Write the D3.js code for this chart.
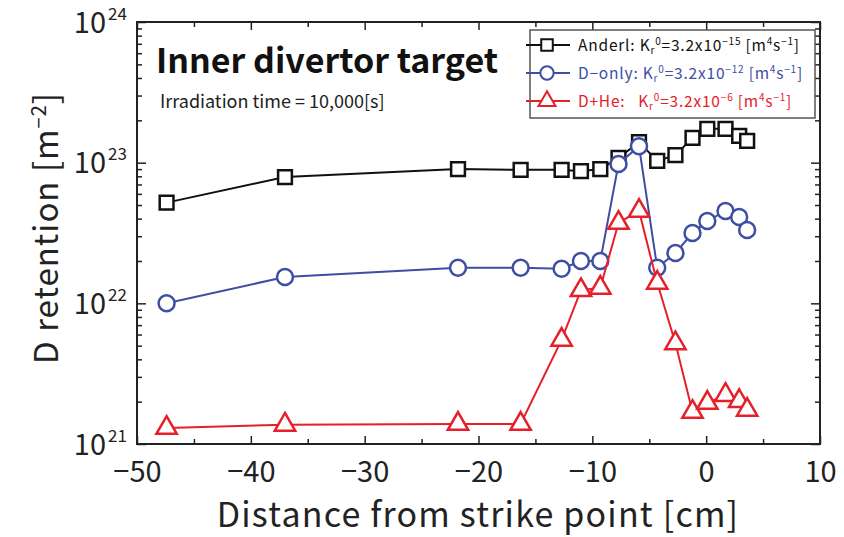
<!DOCTYPE html>
<html lang="en">
<head>
    <meta charset="UTF-8">
    <title>D retention - inner divertor target</title>
    <script src="https://d3js.org/d3.v7.min.js"></script>
    <style>
        body { margin: 0; background: #ffffff; }
        text { font-family: "Noto Sans CJK JP", "Noto Sans", sans-serif; }
        .tick line { stroke: #222222; stroke-width: 1.5; }
        .axis-text { font-size: 29px; fill: #222222; }
        .series-line { fill: none; stroke-width: 2; }
    </style>
</head>
<body>
    <div id="chart"></div>
    <script>
        // distance from strike point [cm]
        const distance = [-47.4, -37, -21.8, -16.3, -12.7, -11, -9.3, -7.7, -5.9, -4.3, -2.7, -1.2, 0.1, 1.7, 2.9, 3.6];
        // D retention [m^-2]
        const anderl = [5.2e22, 7.9e22, 9.0e22, 8.9e22, 8.9e22, 8.7e22, 9.0e22, 1.08e23, 1.40e23, 1.03e23, 1.13e23, 1.50e23, 1.74e23, 1.74e23, 1.55e23, 1.43e23];
        const dOnly = [1.0e22, 1.54e22, 1.79e22, 1.79e22, 1.76e22, 2.0e22, 2.0e22, 9.8e22, 1.31e23, 1.79e22, 2.28e22, 3.16e22, 3.85e22, 4.54e22, 4.11e22, 3.32e22];
        const dHe = [1.30e21, 1.37e21, 1.39e21, 1.39e21, 5.5e21, 1.24e22, 1.29e22, 3.73e22, 4.54e22, 1.40e22, 5.2e21, 1.69e21, 1.96e21, 2.23e21, 2.02e21, 1.75e21];

        const xTicks = [-50, -40, -30, -20, -10, 0, 10];
        const xMinorTicks = [-45, -35, -25, -15, -5, 5];
        const yDecades = [21, 22, 23, 24];

        const legendNames = ["Anderl: ", "D\u2212only: ", "D+He:   "];
        const legendExps = ["\u221215", "\u221212", "\u22126"];

        const W = 844, H = 537;
        const margin = { top: 22, right: 24, bottom: 93, left: 137 };
        const width = W - margin.left - margin.right;
        const height = H - margin.top - margin.bottom;

        const svg = d3.select("#chart").append("svg")
            .attr("width", W).attr("height", H);
        const g = svg.append("g")
            .attr("transform", `translate(${margin.left},${margin.top})`);

        const x = d3.scaleLinear().domain([-50, 10]).range([0, width]);
        const y = d3.scaleLog().domain([1e21, 1e24]).range([height, 0]);

        const yMajor = yDecades.map(e => Math.pow(10, e));
        const yMinor = y.ticks().filter(v => !yMajor.some(m => Math.abs(m - v) / m < 1e-6));

        // bottom axis with labels
        const xAxisG = g.append("g")
            .attr("transform", `translate(0,${height})`)
            .call(d3.axisBottom(x).tickValues(xTicks).tickSizeInner(-8).tickSizeOuter(0).tickPadding(17));
        xAxisG.select(".domain").remove();
        xAxisG.selectAll("text").attr("class", "axis-text");
        g.append("g").attr("transform", `translate(0,${height})`)
            .call(d3.axisBottom(x).tickValues(xMinorTicks).tickSizeInner(-5).tickSizeOuter(0).tickFormat(""))
            .select(".domain").remove();

        // top axis ticks
        g.append("g").call(d3.axisTop(x).tickValues(xTicks).tickSizeInner(-8).tickSizeOuter(0).tickFormat(""))
            .select(".domain").remove();
        g.append("g").call(d3.axisTop(x).tickValues(xMinorTicks).tickSizeInner(-5).tickSizeOuter(0).tickFormat(""))
            .select(".domain").remove();

        // left axis: "10" from the axis, exponent as its own small text
        const yAxisG = g.append("g")
            .call(d3.axisLeft(y).tickValues(yMajor).tickSizeInner(-9).tickSizeOuter(0).tickPadding(31).tickFormat(() => "10"));
        yAxisG.select(".domain").remove();
        yAxisG.selectAll(".tick text")
            .attr("class", "axis-text")
            .attr("dy", "0.35em");
        yAxisG.selectAll(".tick")
            .append("text")
            .attr("x", -29)
            .attr("y", -3)
            .attr("text-anchor", "start")
            .attr("font-size", "17px")
            .attr("fill", "#222222")
            .text(d => Math.round(Math.log10(d)));
        g.append("g").call(d3.axisLeft(y).tickValues(yMinor).tickSizeInner(-5).tickSizeOuter(0).tickFormat(""))
            .select(".domain").remove();

        // right axis ticks
        g.append("g").attr("transform", `translate(${width},0)`)
            .call(d3.axisRight(y).tickValues(yMajor).tickSizeInner(-9).tickSizeOuter(0).tickFormat(""))
            .select(".domain").remove();
        g.append("g").attr("transform", `translate(${width},0)`)
            .call(d3.axisRight(y).tickValues(yMinor).tickSizeInner(-5).tickSizeOuter(0).tickFormat(""))
            .select(".domain").remove();

        // frame
        g.append("rect")
            .attr("width", width).attr("height", height)
            .attr("fill", "none").attr("stroke", "#222222").attr("stroke-width", 2);

        // axis titles
        svg.append("text")
            .attr("x", 478)
            .attr("y", 527)
            .attr("text-anchor", "middle")
            .attr("font-size", "34px")
            .attr("letter-spacing", "1.2px")
            .attr("fill", "#222222")
            .text("Distance from strike point [cm]");

        const yTitle = svg.append("text")
            .attr("transform", `translate(58,228) rotate(-90)`)
            .attr("text-anchor", "middle")
            .attr("font-size", "33px")
            .attr("letter-spacing", "1px")
            .attr("fill", "#222222");
        yTitle.append("tspan").text("D retention [m");
        yTitle.append("tspan").attr("dy", "-12px").attr("font-size", "20px").text("\u22122");
        yTitle.append("tspan").attr("dy", "12px").text("]");

        // annotations
        svg.append("text")
            .attr("x", 156).attr("y", 73)
            .attr("font-size", "34px").attr("font-weight", "bold").attr("fill", "#111111")
            .text("Inner divertor target");
        svg.append("text")
            .attr("x", 160).attr("y", 108)
            .attr("font-size", "18px").attr("fill", "#222222")
            .text("Irradiation time = 10,000[s]");

        const series = [
            { values: anderl, color: "#111111", symbol: d3.symbolSquare, size: 190 },
            { values: dOnly, color: "#3d4ea3", symbol: d3.symbolCircle, size: 200 },
            { values: dHe, color: "#e6202a", symbol: d3.symbolTriangle, size: 180 }
        ];

        const line = d3.line()
            .x(d => x(d[0]))
            .y(d => y(d[1]));

        series.forEach(s => {
            const pts = distance.map((d, i) => [d, s.values[i]]);
            g.append("path")
                .datum(pts)
                .attr("class", "series-line")
                .attr("stroke", s.color)
                .attr("d", line);
            g.selectAll(null)
                .data(pts)
                .join("path")
                .attr("transform", d => `translate(${x(d[0])},${y(d[1])})`)
                .attr("d", d3.symbol(s.symbol, s.size))
                .attr("fill", "#ffffff")
                .attr("stroke", s.color)
                .attr("stroke-width", 2.5);
        });

        // legend
        const legend = svg.append("g").attr("transform", "translate(530,30)");
        legend.append("rect")
            .attr("width", 285).attr("height", 88)
            .attr("fill", "#ffffff").attr("stroke", "#555555").attr("stroke-width", 1.5);

        series.forEach((s, i) => {
            const row = legend.append("g").attr("transform", `translate(0,${15 + i * 28})`);
            row.append("line")
                .attr("x1", -4).attr("x2", 40)
                .attr("stroke", s.color).attr("stroke-width", 2);
            row.append("path")
                .attr("transform", "translate(17,0)")
                .attr("d", d3.symbol(s.symbol, s.size * 0.7))
                .attr("fill", "#ffffff")
                .attr("stroke", s.color)
                .attr("stroke-width", 2);
            const t = row.append("text")
                .attr("x", 48).attr("y", 6)
                .attr("font-size", "15.5px")
                .attr("letter-spacing", "0.8px")
                .attr("fill", s.color)
                .attr("xml:space", "preserve");
            // superscripts / subscripts with pixel offsets so rows stay level
            t.append("tspan").text(legendNames[i] + "K");
            t.append("tspan").attr("dy", "3px").attr("font-size", "10px").text("r");
            t.append("tspan").attr("dy", "-9px").attr("font-size", "10px").text("0");
            t.append("tspan").attr("dy", "6px").text("=3.2x10");
            t.append("tspan").attr("dy", "-6px").attr("font-size", "10px").text(legendExps[i]);
            t.append("tspan").attr("dy", "6px").text(" [m");
            t.append("tspan").attr("dy", "-6px").attr("font-size", "10px").text("4");
            t.append("tspan").attr("dy", "6px").text("s");
            t.append("tspan").attr("dy", "-6px").attr("font-size", "10px").text("\u22121");
            t.append("tspan").attr("dy", "6px").text("]");
        });
    </script>
</body>
</html>
